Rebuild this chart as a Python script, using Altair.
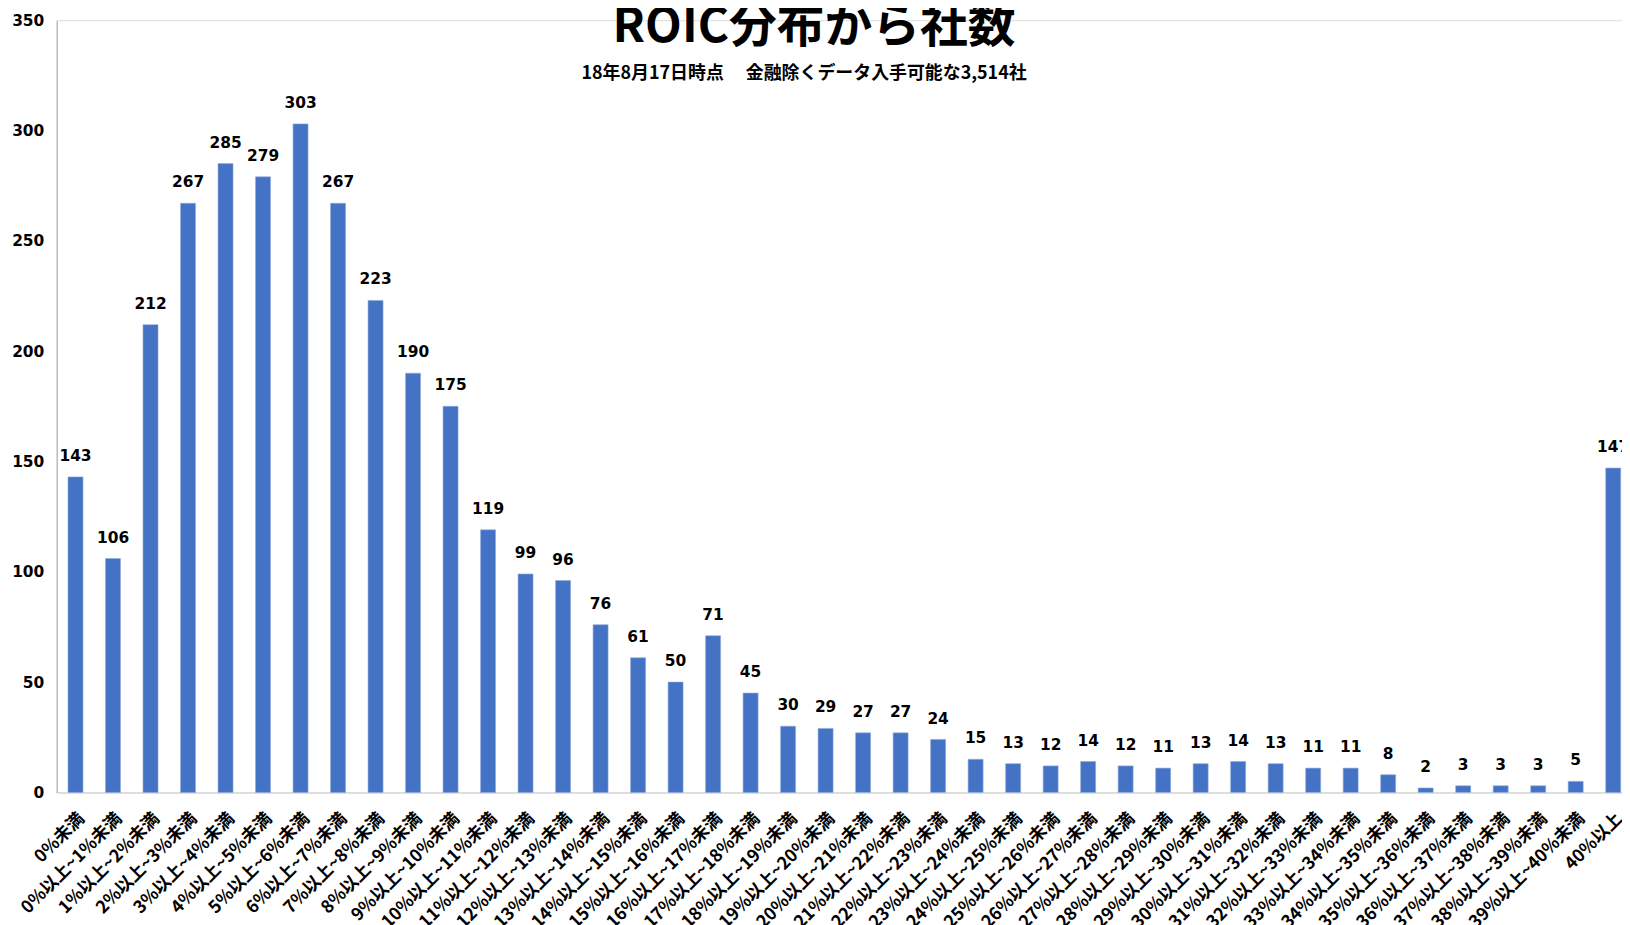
import altair as alt
import pandas as pd

categories = [
    "0%未満", "0%以上~1%未満", "1%以上~2%未満", "2%以上~3%未満", "3%以上~4%未満",
    "4%以上~5%未満", "5%以上~6%未満", "6%以上~7%未満", "7%以上~8%未満", "8%以上~9%未満",
    "9%以上~10%未満", "10%以上~11%未満", "11%以上~12%未満", "12%以上~13%未満",
    "13%以上~14%未満", "14%以上~15%未満", "15%以上~16%未満", "16%以上~17%未満",
    "17%以上~18%未満", "18%以上~19%未満", "19%以上~20%未満", "20%以上~21%未満",
    "21%以上~22%未満", "22%以上~23%未満", "23%以上~24%未満", "24%以上~25%未満",
    "25%以上~26%未満", "26%以上~27%未満", "27%以上~28%未満", "28%以上~29%未満",
    "29%以上~30%未満", "30%以上~31%未満", "31%以上~32%未満", "32%以上~33%未満",
    "33%以上~34%未満", "34%以上~35%未満", "35%以上~36%未満", "36%以上~37%未満",
    "37%以上~38%未満", "38%以上~39%未満", "39%以上~40%未満", "40%以上",
]
counts = [
    143, 106, 212, 267, 285, 279, 303, 267, 223, 190, 175, 119, 99, 96, 76, 61,
    50, 71, 45, 30, 29, 27, 27, 24, 15, 13, 12, 14, 12, 11, 13, 14, 13, 11, 11,
    8, 2, 3, 3, 3, 5, 147,
]
y_ticks = [0, 50, 100, 150, 200, 250, 300, 350]
title_text = "ROIC分布から社数"
subtitle_text = "18年8月17日時点　 金融除くデータ入手可能な3,514社"

df = pd.DataFrame({"cat": categories, "n": counts})

x_enc = alt.X(
    "cat:N",
    sort=categories,
    title=None,
    scale=alt.Scale(range=[0, 1583], paddingInner=0.6, paddingOuter=0.3),
    axis=alt.Axis(
        labelAngle=-45,
        labelFont="Noto Sans CJK JP",
        labelFontWeight="bold",
        labelFontSize=17.5,
        labelColor="#000000",
        labelPadding=17,
        ticks=False,
        domainColor="#D9D9D9",
        domainWidth=1.5,
        grid=False,
        labelOverlap=False,
    ),
)
y_enc = alt.Y(
    "n:Q",
    title=None,
    scale=alt.Scale(domain=[0, 350], nice=False),
    axis=alt.Axis(
        values=y_ticks,
        labelFont="DejaVu Sans",
        labelFontWeight="bold",
        labelFontSize=15.5,
        labelColor="#000000",
        labelPadding=13,
        ticks=False,
        domainColor="#BFBFBF",
        domainWidth=1.5,
        grid=False,
    ),
)

bars = alt.Chart(df).mark_bar(color="#4472C4", stroke="#8FAADC", strokeWidth=0.6).encode(
    x=x_enc, y=y_enc
)
labels = alt.Chart(df).mark_text(
    baseline="bottom", dy=-13, font="DejaVu Sans", fontWeight="bold", fontSize=15.5, color="#000000"
).encode(x=alt.X("cat:N", sort=categories), y="n:Q", text="n:Q")

title = alt.Chart(pd.DataFrame({"t": [title_text]})).mark_text(
    font="Noto Sans CJK JP", fontWeight="bold", fontSize=48, color="#000000",
    align="center", baseline="alphabetic",
).encode(x=alt.value(761), y=alt.value(22), text="t:N")

subtitle = alt.Chart(pd.DataFrame({"t": [subtitle_text]})).mark_text(
    font="Noto Sans CJK JP", fontWeight="bold", fontSize=18, color="#000000",
    align="center", baseline="alphabetic",
).encode(x=alt.value(751), y=alt.value(59), text="t:N")

chart = alt.layer(bars, labels, title, subtitle).properties(
    width=1573,
    height=776,
    autosize=alt.AutoSizeParams(type="none"),
    padding={"left": 49, "top": 10, "right": 0, "bottom": 131},
).configure_view(stroke=None).configure(background="#FFFFFF")

chart.save("out.html", embed_options={"renderer": "svg", "actions": False})
